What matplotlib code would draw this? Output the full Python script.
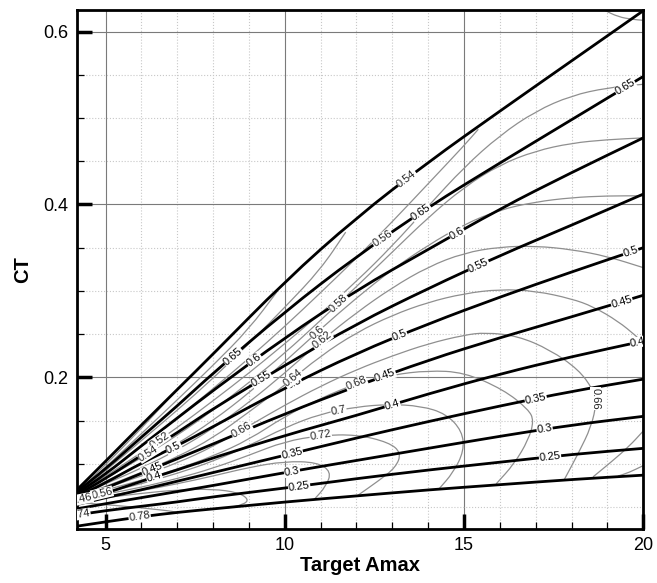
import numpy as np
import matplotlib.pyplot as plt
from matplotlib.ticker import MultipleLocator
from matplotlib.path import Path
from matplotlib.patches import PathPatch

plt.rcParams['font.family'] = ['Liberation Sans', 'DejaVu Sans']

# --- thick (black) curves, sampled at shared x stations ---
bx = [4.2, 5, 6, 7, 8, 10, 12, 14, 16, 18, 20]

ct_top = [0.070, 0.103, 0.145, 0.186, 0.227, 0.311, 0.385, 0.449, 0.508, 0.566, 0.624]
ct_065 = [0.068, 0.094, 0.131, 0.167, 0.205, 0.276, 0.340, 0.397, 0.448, 0.498, 0.548]
ct_060 = [0.066, 0.088, 0.121, 0.153, 0.185, 0.246, 0.301, 0.348, 0.395, 0.437, 0.477]
ct_055 = [0.064, 0.083, 0.110, 0.136, 0.164, 0.214, 0.262, 0.303, 0.341, 0.376, 0.412]
ct_050 = [0.062, 0.078, 0.101, 0.121, 0.143, 0.188, 0.228, 0.262, 0.293, 0.322, 0.350]
ct_045 = [0.060, 0.072, 0.089, 0.106, 0.123, 0.158, 0.190, 0.220, 0.246, 0.270, 0.295]
ct_040 = [0.057, 0.066, 0.080, 0.093, 0.107, 0.133, 0.156, 0.181, 0.204, 0.224, 0.242]
ct_035 = [0.053, 0.061, 0.070, 0.080, 0.090, 0.110, 0.130, 0.149, 0.167, 0.184, 0.198]
ct_030 = [0.048, 0.054, 0.061, 0.068, 0.075, 0.090, 0.104, 0.118, 0.132, 0.145, 0.155]
ct_025 = [0.041, 0.046, 0.051, 0.056, 0.062, 0.072, 0.083, 0.093, 0.102, 0.111, 0.118]
ct_020 = [0.028, 0.033, 0.039, 0.044, 0.048, 0.056, 0.063, 0.070, 0.076, 0.082, 0.087]

black_curves = [ct_top, ct_065, ct_060, ct_055, ct_050, ct_045,
                ct_040, ct_035, ct_030, ct_025, ct_020]

# labels on thick curves: (curve, x, text)
black_labels = [
    (ct_065, 8.55, "0.65"), (ct_065, 13.8, "0.65"), (ct_065, 19.5, "0.65"),
    (ct_060, 9.15, "0.6"), (ct_060, 14.8, "0.6"),
    (ct_055, 9.35, "0.55"), (ct_055, 15.4, "0.55"),
    (ct_050, 6.9, "0.5"), (ct_050, 10.26, "0.5"), (ct_050, 13.2, "0.5"), (ct_050, 19.65, "0.5"),
    (ct_045, 6.3, "0.45"), (ct_045, 12.8, "0.45"), (ct_045, 19.4, "0.45"),
    (ct_040, 6.36, "0.4"), (ct_040, 13.0, "0.4"), (ct_040, 19.85, "0.4"),
    (ct_035, 10.2, "0.35"), (ct_035, 17.0, "0.35"),
    (ct_030, 10.2, "0.3"), (ct_030, 17.25, "0.3"),
    (ct_025, 10.4, "0.25"), (ct_025, 17.4, "0.25"),
]

# --- thin (gray) contours ---
xg = [4.3, 5, 6, 7, 8, 9, 10, 11, 12, 13, 14, 15, 16, 17, 18, 19, 20]

g048_x = [4.3, 5, 6, 7.0]
g048_y = [0.071, 0.099, 0.141, 0.186]
g050_x = [4.3, 5, 6, 7, 8, 9, 9.8]
g050_y = [0.070, 0.096, 0.135, 0.174, 0.214, 0.256, 0.300]
g052_x = [4.3, 5, 6, 7, 8, 9, 10, 11, 11.7]
g052_y = [0.069, 0.092, 0.127, 0.162, 0.199, 0.239, 0.281, 0.325, 0.368]
g054_x = [4.3, 5, 6, 7, 8, 9, 10, 11, 12, 13, 14, 15, 15.4]
g054_y = [0.068, 0.089, 0.120, 0.153, 0.187, 0.222, 0.259, 0.298, 0.338, 0.380, 0.424, 0.468, 0.487]
g056_y = [0.067, 0.086, 0.113, 0.142, 0.173, 0.205, 0.239, 0.274, 0.311, 0.352, 0.398, 0.443,
          0.480, 0.508, 0.526, 0.535, 0.539]
g058_y = [0.066, 0.083, 0.107, 0.133, 0.162, 0.194, 0.228, 0.266, 0.305, 0.345, 0.385, 0.420,
          0.446, 0.462, 0.471, 0.475, 0.477]
g060_y = [0.065, 0.080, 0.100, 0.123, 0.150, 0.182, 0.218, 0.256, 0.292, 0.325, 0.353, 0.377,
          0.394, 0.403, 0.408, 0.410, 0.410]
g062_y = [0.064, 0.077, 0.095, 0.116, 0.141, 0.171, 0.205, 0.242, 0.275, 0.304, 0.328, 0.344,
          0.351, 0.352, 0.348, 0.340, 0.327]
g062b_x = [20, 19.6, 19.3]
g062b_y = [0.098, 0.090, 0.086]
g064_x = [4.3, 5, 6, 7, 8, 9, 10, 11, 12, 13, 14, 15, 16, 17, 18, 18.6, 19.3, 19.8, 20]
g064_y = [0.063, 0.074, 0.090, 0.108, 0.130, 0.160, 0.191, 0.225, 0.252, 0.272, 0.287, 0.297,
          0.302, 0.300, 0.291, 0.282, 0.265, 0.248, 0.240]
g064b_x = [20, 19.6, 19.1, 18.6]
g064b_y = [0.138, 0.120, 0.102, 0.085]
g066_x = [4.3, 5, 6, 7, 8, 9, 10, 11, 12, 13, 14, 15, 15.6, 16.5, 17.4, 18.2, 18.6, 18.7,
          18.55, 18.2, 17.8]
g066_y = [0.062, 0.072, 0.086, 0.101, 0.120, 0.144, 0.168, 0.190, 0.209, 0.225, 0.239, 0.249,
          0.252, 0.248, 0.232, 0.209, 0.186, 0.171, 0.143, 0.113, 0.082]
g068_x = [4.3, 5, 6, 7, 8, 9, 10, 11, 12, 13, 14, 15, 16.1, 16.8, 16.95, 16.8, 16.4, 15.9]
g068_y = [0.061, 0.070, 0.081, 0.094, 0.109, 0.128, 0.155, 0.176, 0.193, 0.203, 0.208, 0.206,
          0.186, 0.163, 0.150, 0.128, 0.100, 0.077]
g070_x = [4.3, 5, 6, 7, 8, 9, 10, 11, 12, 12.9, 13.8, 14.5, 14.95, 15.0, 14.7, 14.3]
g070_y = [0.060, 0.067, 0.077, 0.089, 0.103, 0.121, 0.142, 0.158, 0.166, 0.169, 0.167, 0.158,
          0.138, 0.115, 0.090, 0.071]
g072_x = [4.3, 5, 6, 7, 8, 9, 10, 11, 12, 12.9, 13.25, 13.1, 12.6, 12.05]
g072_y = [0.059, 0.065, 0.073, 0.083, 0.095, 0.110, 0.126, 0.133, 0.134, 0.125, 0.113, 0.096,
          0.080, 0.064]
g074_x = [4.3, 5, 6, 7, 8, 9, 10, 10.9, 11.3, 11.15, 10.8]
g074_y = [0.058, 0.063, 0.069, 0.077, 0.086, 0.096, 0.103, 0.102, 0.091, 0.074, 0.058]
g076_x = [4.3, 5, 6, 7, 8, 8.7, 9.0, 8.85, 8.4]
g076_y = [0.057, 0.061, 0.066, 0.070, 0.071, 0.067, 0.059, 0.053, 0.049]
g078_x = [4.3, 5, 5.8, 6.5, 6.9, 7.0]
g078_y = [0.055, 0.053, 0.050, 0.047, 0.045, 0.0435]
gcorner_x = [18.9, 19.3, 19.7, 20]
gcorner_y = [0.625, 0.617, 0.614, 0.613]

gray_curves = [
    (g048_x, g048_y), (g050_x, g050_y), (g052_x, g052_y), (g054_x, g054_y),
    (xg, g056_y), (xg, g058_y), (xg, g060_y), (xg, g062_y), (g062b_x, g062b_y),
    (g064_x, g064_y), (g064b_x, g064b_y), (g066_x, g066_y), (g068_x, g068_y),
    (g070_x, g070_y), (g072_x, g072_y), (g074_x, g074_y), (g076_x, g076_y),
    (g078_x, g078_y), (gcorner_x, gcorner_y),
]

# labels on thin contours: (x, y, text, curve x, curve y, fixed rotation)
gray_labels = [
    (13.4, 0.430, "0.54", bx, ct_top, None),
    (12.7, 0.362, "0.56", bx, ct_065, None),
    (11.5, 0.286, "0.58", xg, g058_y, None),
    (10.9, 0.252, "0.6", xg, g060_y, None),
    (11.1, 0.240, "0.62", xg, g062_y, None),
    (10.25, 0.199, "0.64", g064_x, g064_y, None),
    (8.8, 0.139, "0.66", g066_x, g066_y, None),
    (12.0, 0.193, "0.68", g068_x, g068_y, None),
    (11.5, 0.162, "0.7", g070_x, g070_y, None),
    (11.0, 0.133, "0.72", g072_x, g072_y, None),
    (18.68, 0.176, "0.66", g066_x, g066_y, -90),
    (6.5, 0.128, "0.52", xg, g056_y, None),
    (6.2, 0.112, "0.54", xg, g058_y, None),
    (4.9, 0.066, "0.56", g070_x, g070_y, None),
    (4.32, 0.064, "0.46", g072_x, g072_y, None),
    (4.28, 0.040, "0.74", bx, ct_025, None),
    (5.95, 0.039, "0.78", bx, ct_020, None),
]

fig = plt.figure(figsize=(6.57, 5.83), dpi=100)
ax = fig.add_axes([0.117, 0.093, 0.862, 0.890])
ax.set_xlim(4.2, 20)
ax.set_ylim(0.025, 0.625)

# grid
ax.xaxis.set_major_locator(MultipleLocator(5))
ax.xaxis.set_minor_locator(MultipleLocator(1))
ax.yaxis.set_major_locator(MultipleLocator(0.2))
ax.yaxis.set_minor_locator(MultipleLocator(0.05))
ax.grid(which='major', color='#7a7a7a', lw=0.8, ls='-', zorder=0)
ax.grid(which='minor', color='#c8c8c8', lw=0.8, ls=':', zorder=0)
ax.set_axisbelow(True)


def smooth_curve(xs, ys, **kw):
    # quadratic bezier through the midpoints, read points act as control points
    pts = list(zip(xs, ys))
    if len(pts) < 3:
        verts, codes = pts, [Path.MOVETO] + [Path.LINETO] * (len(pts) - 1)
    else:
        mid = lambda a, b: ((a[0] + b[0]) / 2, (a[1] + b[1]) / 2)
        verts = [pts[0], mid(pts[0], pts[1])]
        codes = [Path.MOVETO, Path.LINETO]
        for i in range(1, len(pts) - 1):
            verts += [pts[i], mid(pts[i], pts[i + 1])]
            codes += [Path.CURVE3, Path.CURVE3]
        verts.append(pts[-1])
        codes.append(Path.LINETO)
    patch = PathPatch(Path(verts, codes), fill=False, **kw)
    ax.add_patch(patch)


for gx, gy in gray_curves:
    smooth_curve(gx, gy, edgecolor='#8f8f8f', lw=0.9, zorder=2)

for cy in black_curves:
    smooth_curve(bx, cy, edgecolor='black', lw=2.0, zorder=3, capstyle='butt')


def put_label(px, py, text, xs, ys, rot=None, color='black'):
    pts = ax.transData.transform(np.column_stack([xs, ys]))
    p = ax.transData.transform((px, py))
    best = None
    for i in range(len(pts) - 1):
        a, b = pts[i], pts[i + 1]
        d = b - a
        t = np.clip(np.dot(p - a, d) / np.dot(d, d), 0, 1)
        q = a + t * d
        dist = np.hypot(*(p - q))
        if best is None or dist < best[0]:
            best = (dist, q, d)
    _, q, d = best
    ang = np.degrees(np.arctan2(d[1], d[0]))
    if ang > 90:
        ang -= 180
    if ang < -90:
        ang += 180
    if rot is not None:
        ang = rot
    xq, yq = ax.transData.inverted().transform(q)
    ax.text(xq, yq, text, rotation=ang, rotation_mode='anchor',
            ha='center', va='center', fontsize=8, color=color, zorder=5,
            clip_on=True,
            bbox=dict(facecolor='white', edgecolor='none', pad=0.3))


for cy, lx, txt in black_labels:
    put_label(lx, np.interp(lx, bx, cy), txt, bx, cy)

for lx, ly, txt, cx, cy, rot in gray_labels:
    put_label(lx, ly, txt, cx, cy, rot=rot, color='#222222')

# axes styling
for s in ax.spines.values():
    s.set_linewidth(2.0)
ax.tick_params(which='major', direction='in', length=11, width=2.5,
               labelsize=13, top=False, right=False, pad=6)
ax.tick_params(which='minor', direction='in', length=5, width=0.9,
               top=False, right=False)
ax.set_xticks([5, 10, 15, 20])
ax.set_xticklabels(['5', '10', '15', '20'])
ax.set_yticks([0.2, 0.4, 0.6])
ax.set_yticklabels(['0.2', '0.4', '0.6'])

ax.set_xlabel('Target Amax', fontsize=14.5, fontweight='bold', labelpad=1)
ax.set_ylabel('CT', fontsize=14.5, fontweight='bold', labelpad=8)

fig.savefig('out.png', dpi=100)
